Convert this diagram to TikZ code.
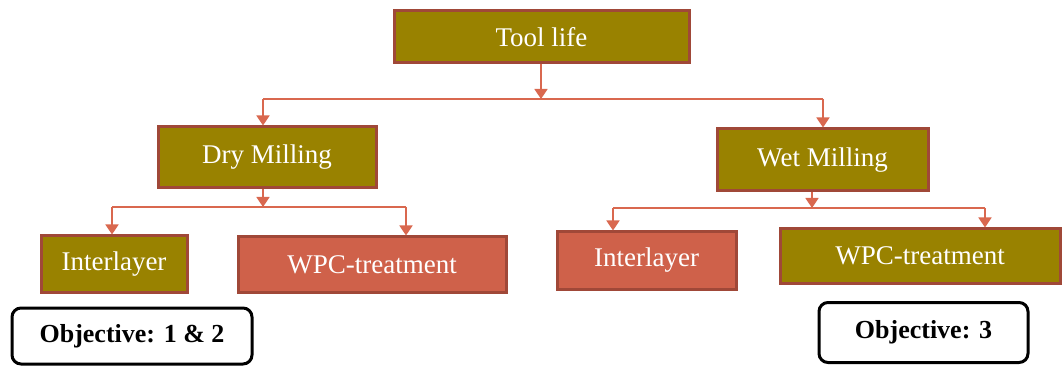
\documentclass[tikz,border=0pt]{standalone}
\usepackage{fontspec}
\setmainfont{Liberation Serif}
\usetikzlibrary{arrows.meta}
\definecolor{olivefill}{RGB}{153,130,0}
\definecolor{redfill}{RGB}{207,97,74}
\definecolor{boxedge}{RGB}{160,72,56}
\definecolor{linkcol}{RGB}{217,104,79}
\tikzset{
  box/.style={draw=boxedge, line width=3pt, text=white, inner sep=0pt,
    font=\fontsize{27}{30}\selectfont},
  olivebox/.style={box, fill=olivefill},
  redbox/.style={box, fill=redfill},
  objbox/.style={draw=black, line width=3pt, rounded corners=9pt, fill=white,
    inner sep=0pt, font=\fontsize{26}{30}\selectfont\bfseries},
  link/.style={draw=linkcol, line width=1.8pt},
  arr/.style={link, -{Triangle[width=13pt,length=10pt]}}
}
\begin{document}
\begin{tikzpicture}[x=1pt,y=-1pt]
\useasboundingbox (0,0) rectangle (1063,366);
% nodes
\node[olivebox, minimum width=295pt, minimum height=52pt] (tool) at (541.5,37) {Tool life};
\node[olivebox, minimum width=218pt, minimum height=61pt] (dry) at (267,157.5) {Dry Milling};
\node[olivebox, minimum width=211pt, minimum height=62pt] (wet) at (822.5,160) {Wet Milling};
\node[olivebox, minimum width=146pt, minimum height=56pt] (il1) at (114,264) {Interlayer};
\node[redbox, minimum width=268pt, minimum height=55pt] (wpc1) at (372,264.5) {WPC-treatment};
\node[redbox, minimum width=179pt, minimum height=57pt] (il2) at (646.5,260.5) {Interlayer};
\node[olivebox, minimum width=280pt, minimum height=54pt] (wpc2) at (920,256) {WPC-treatment};
\node[objbox, minimum width=240pt, minimum height=56pt] (obj1) at (132,336) {Objective: 1 \& 2};
\node[objbox, minimum width=209pt, minimum height=60pt] (obj2) at (923.5,332.5) {Objective: 3};
% junction coordinates
\coordinate (t0) at (541,99);
\coordinate (tL) at (263,99);
\coordinate (tR) at (823,99);
\coordinate (d0) at (263,207);
\coordinate (dL) at (112,207);
\coordinate (dR) at (406,207);
\coordinate (w0) at (812,208);
\coordinate (wL) at (613,208);
\coordinate (wR) at (985,208);
% connectors
\draw[link] (tL) -- (tR);
\draw[arr] (tool.south -| t0) -- (t0);
\draw[arr] (tL) -- (tL |- dry.north);
\draw[arr] (tR) -- (tR |- wet.north);
\draw[link] (dL) -- (dR);
\draw[arr] (dry.south -| d0) -- (d0);
\draw[arr] (dL) -- (dL |- il1.north);
\draw[arr] (dR) -- (dR |- wpc1.north);
\draw[link] (wL) -- (wR);
\draw[arr] (wet.south -| w0) -- (w0);
\draw[arr] (wL) -- (wL |- il2.north);
\draw[arr] (wR) -- (wR |- wpc2.north);
\end{tikzpicture}
\end{document}
